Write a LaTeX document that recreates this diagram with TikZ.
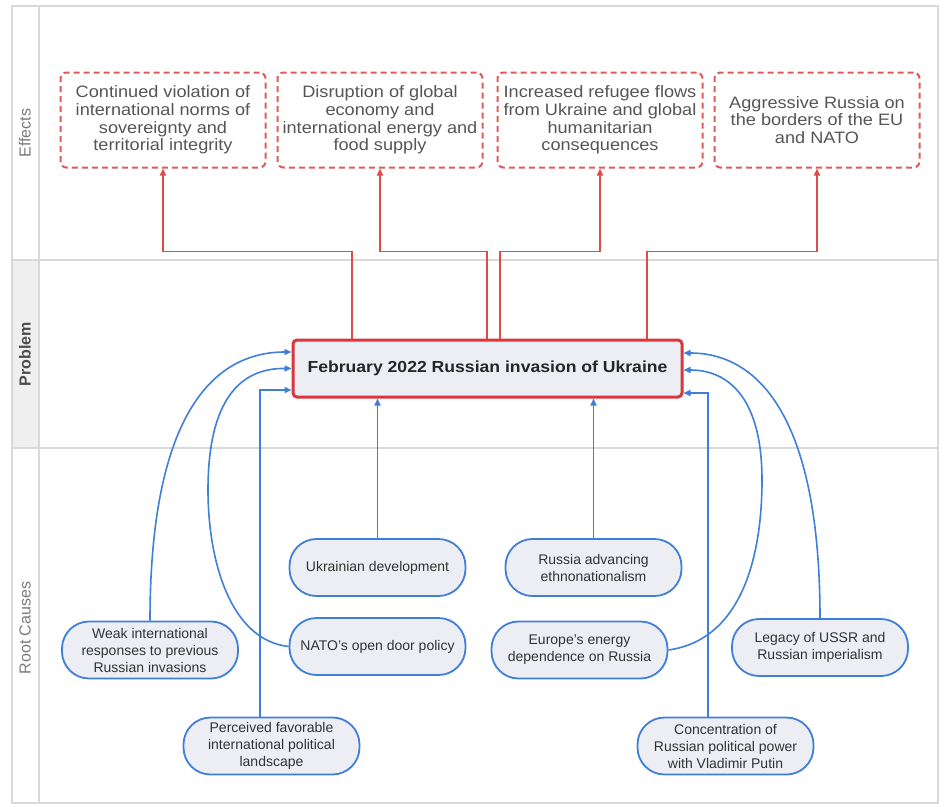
\documentclass[tikz,border=0pt]{standalone}
\usepackage{fontspec}
\setmainfont{Liberation Sans}
\newfontfamily\widefont{Liberation Sans}[FakeStretch=1.1]
\usetikzlibrary{arrows.meta}
\definecolor{lanegrey}{HTML}{D9D9D9}
\definecolor{headfill}{HTML}{EFEFEF}
\definecolor{effred}{HTML}{E05A5A}
\definecolor{invred}{HTML}{D9363E}
\definecolor{linkred}{HTML}{E04A4A}
\definecolor{linkblue}{HTML}{3F7FD9}
\definecolor{nodefill}{HTML}{EDEEF3}
\definecolor{efftext}{HTML}{555555}
\definecolor{roottext}{HTML}{333333}
\definecolor{lanetext}{HTML}{7A7A7A}
\tikzset{
  effbox/.style={draw=effred, line width=2pt, dash pattern=on 6pt off 4pt, rounded corners=6pt,
    minimum width=205pt, minimum height=95pt, inner sep=0pt, align=center, text=efftext,
    font=\widefont\fontsize{16.5}{17.6}\selectfont},
  invbox/.style={draw=invred, line width=3pt, fill=nodefill, rounded corners=4pt,
    minimum width=389pt, minimum height=57pt, inner sep=0pt, align=center, text=black!85,
    font=\widefont\bfseries\fontsize{16}{18}\selectfont},
  rootbox/.style={draw=linkblue, line width=1.8pt, fill=nodefill, rounded corners=27pt,
    minimum width=176pt, minimum height=57pt, inner sep=0pt, align=center, text=roottext,
    font=\fontsize{14}{17}\selectfont},
  redlink/.style={draw=linkred, line width=1.6pt, -{Triangle[length=7pt,width=6pt]}},
  bluelink/.style={draw=linkblue, line width=1.6pt, -{Triangle[length=7pt,width=6pt]}},
  lanelabel/.style={rotate=90, font=\fontsize{16}{18}\selectfont, text=lanetext},
}
\begin{document}
\begin{tikzpicture}[x=1pt,y=-1pt]
\useasboundingbox (0,0) rectangle (945,806);
% lanes
\fill[headfill] (12,260) rectangle (39,448);
\draw[lanegrey, line width=1.5pt] (12,6) rectangle (938,803);
\draw[lanegrey, line width=1.5pt] (39,6) -- (39,803);
\draw[lanegrey, line width=1.5pt] (12,260) -- (938,260);
\draw[lanegrey, line width=1.5pt] (12,448) -- (938,448);
\node[lanelabel] (lEff) at (25,133) {Effects};
\node[lanelabel, text=black!70, font=\bfseries\fontsize{16}{18}\selectfont] (lProb) at (25,354) {Problem};
\node[lanelabel] (lRoot) at (25,628) {Root Causes};
% effects
\node[effbox] (e1) at (163,120) {Continued violation of\\international norms of\\sovereignty and\\territorial integrity};
\node[effbox] (e2) at (380,120) {Disruption of global\\economy and\\international energy and\\food supply};
\node[effbox] (e3) at (600,120) {Increased refugee flows\\from Ukraine and global\\humanitarian\\consequences};
\node[effbox] (e4) at (817,120) {Aggressive Russia on\\the borders of the EU\\and NATO};
% problem
\node[invbox] (inv) at (487.5,368.5) {February 2022 Russian invasion of Ukraine};
% root causes
\node[rootbox] (ukr) at (377.5,567.5) {Ukrainian development};
\node[rootbox] (nato) at (377.5,646.5) {NATO's open door policy};
\node[rootbox] (weak) at (150,650) {Weak international\\responses to previous\\Russian invasions};
\node[rootbox] (perc) at (271.5,746) {Perceived favorable\\international political\\landscape};
\node[rootbox] (rus) at (593.5,567.5) {Russia advancing\\ethnonationalism};
\node[rootbox] (eur) at (579.5,650) {Europe's energy\\dependence on Russia};
\node[rootbox] (leg) at (820,647.5) {Legacy of USSR and\\Russian imperialism};
\node[rootbox] (conc) at (725.5,746) {Concentration of\\Russian political power\\with Vladimir Putin};
% red links
\draw[redlink] ([xshift=-135.5pt]inv.north) -- ++(0,-87) -| (e1.south);
\draw[redlink] ([xshift=-0.5pt]inv.north) -- ++(0,-87) -| (e2.south);
\draw[redlink] ([xshift=12.5pt]inv.north) -- ++(0,-87) -| (e3.south);
\draw[redlink] ([xshift=159.5pt]inv.north) -- ++(0,-87) -| (e4.south);
% blue links
\draw[bluelink] (ukr.north) -- (ukr.north |- inv.south);
\draw[bluelink] (rus.north) -- (rus.north |- inv.south);
\draw[bluelink] (weak.north) .. controls (150,420) and (210,352) .. ([yshift=16.5pt]inv.west);
\draw[bluelink] (nato.west) .. controls (230,640) and (208,560) .. (208,490) .. controls (208,400) and (240,368) .. (inv.west);
\draw[bluelink] ([xshift=-11.5pt]perc.north) |- ([yshift=-21.5pt]inv.west);
\draw[bluelink] (leg.north) .. controls (820,420) and (760,353) .. ([yshift=15.5pt]inv.east);
\draw[bluelink] (eur.east) .. controls (740,640) and (762,560) .. (762,480) .. controls (762,400) and (730,370) .. ([yshift=-1.5pt]inv.east);
\draw[bluelink] ([xshift=-17.5pt]conc.north) |- ([yshift=-24.5pt]inv.east);
\end{tikzpicture}
\end{document}
